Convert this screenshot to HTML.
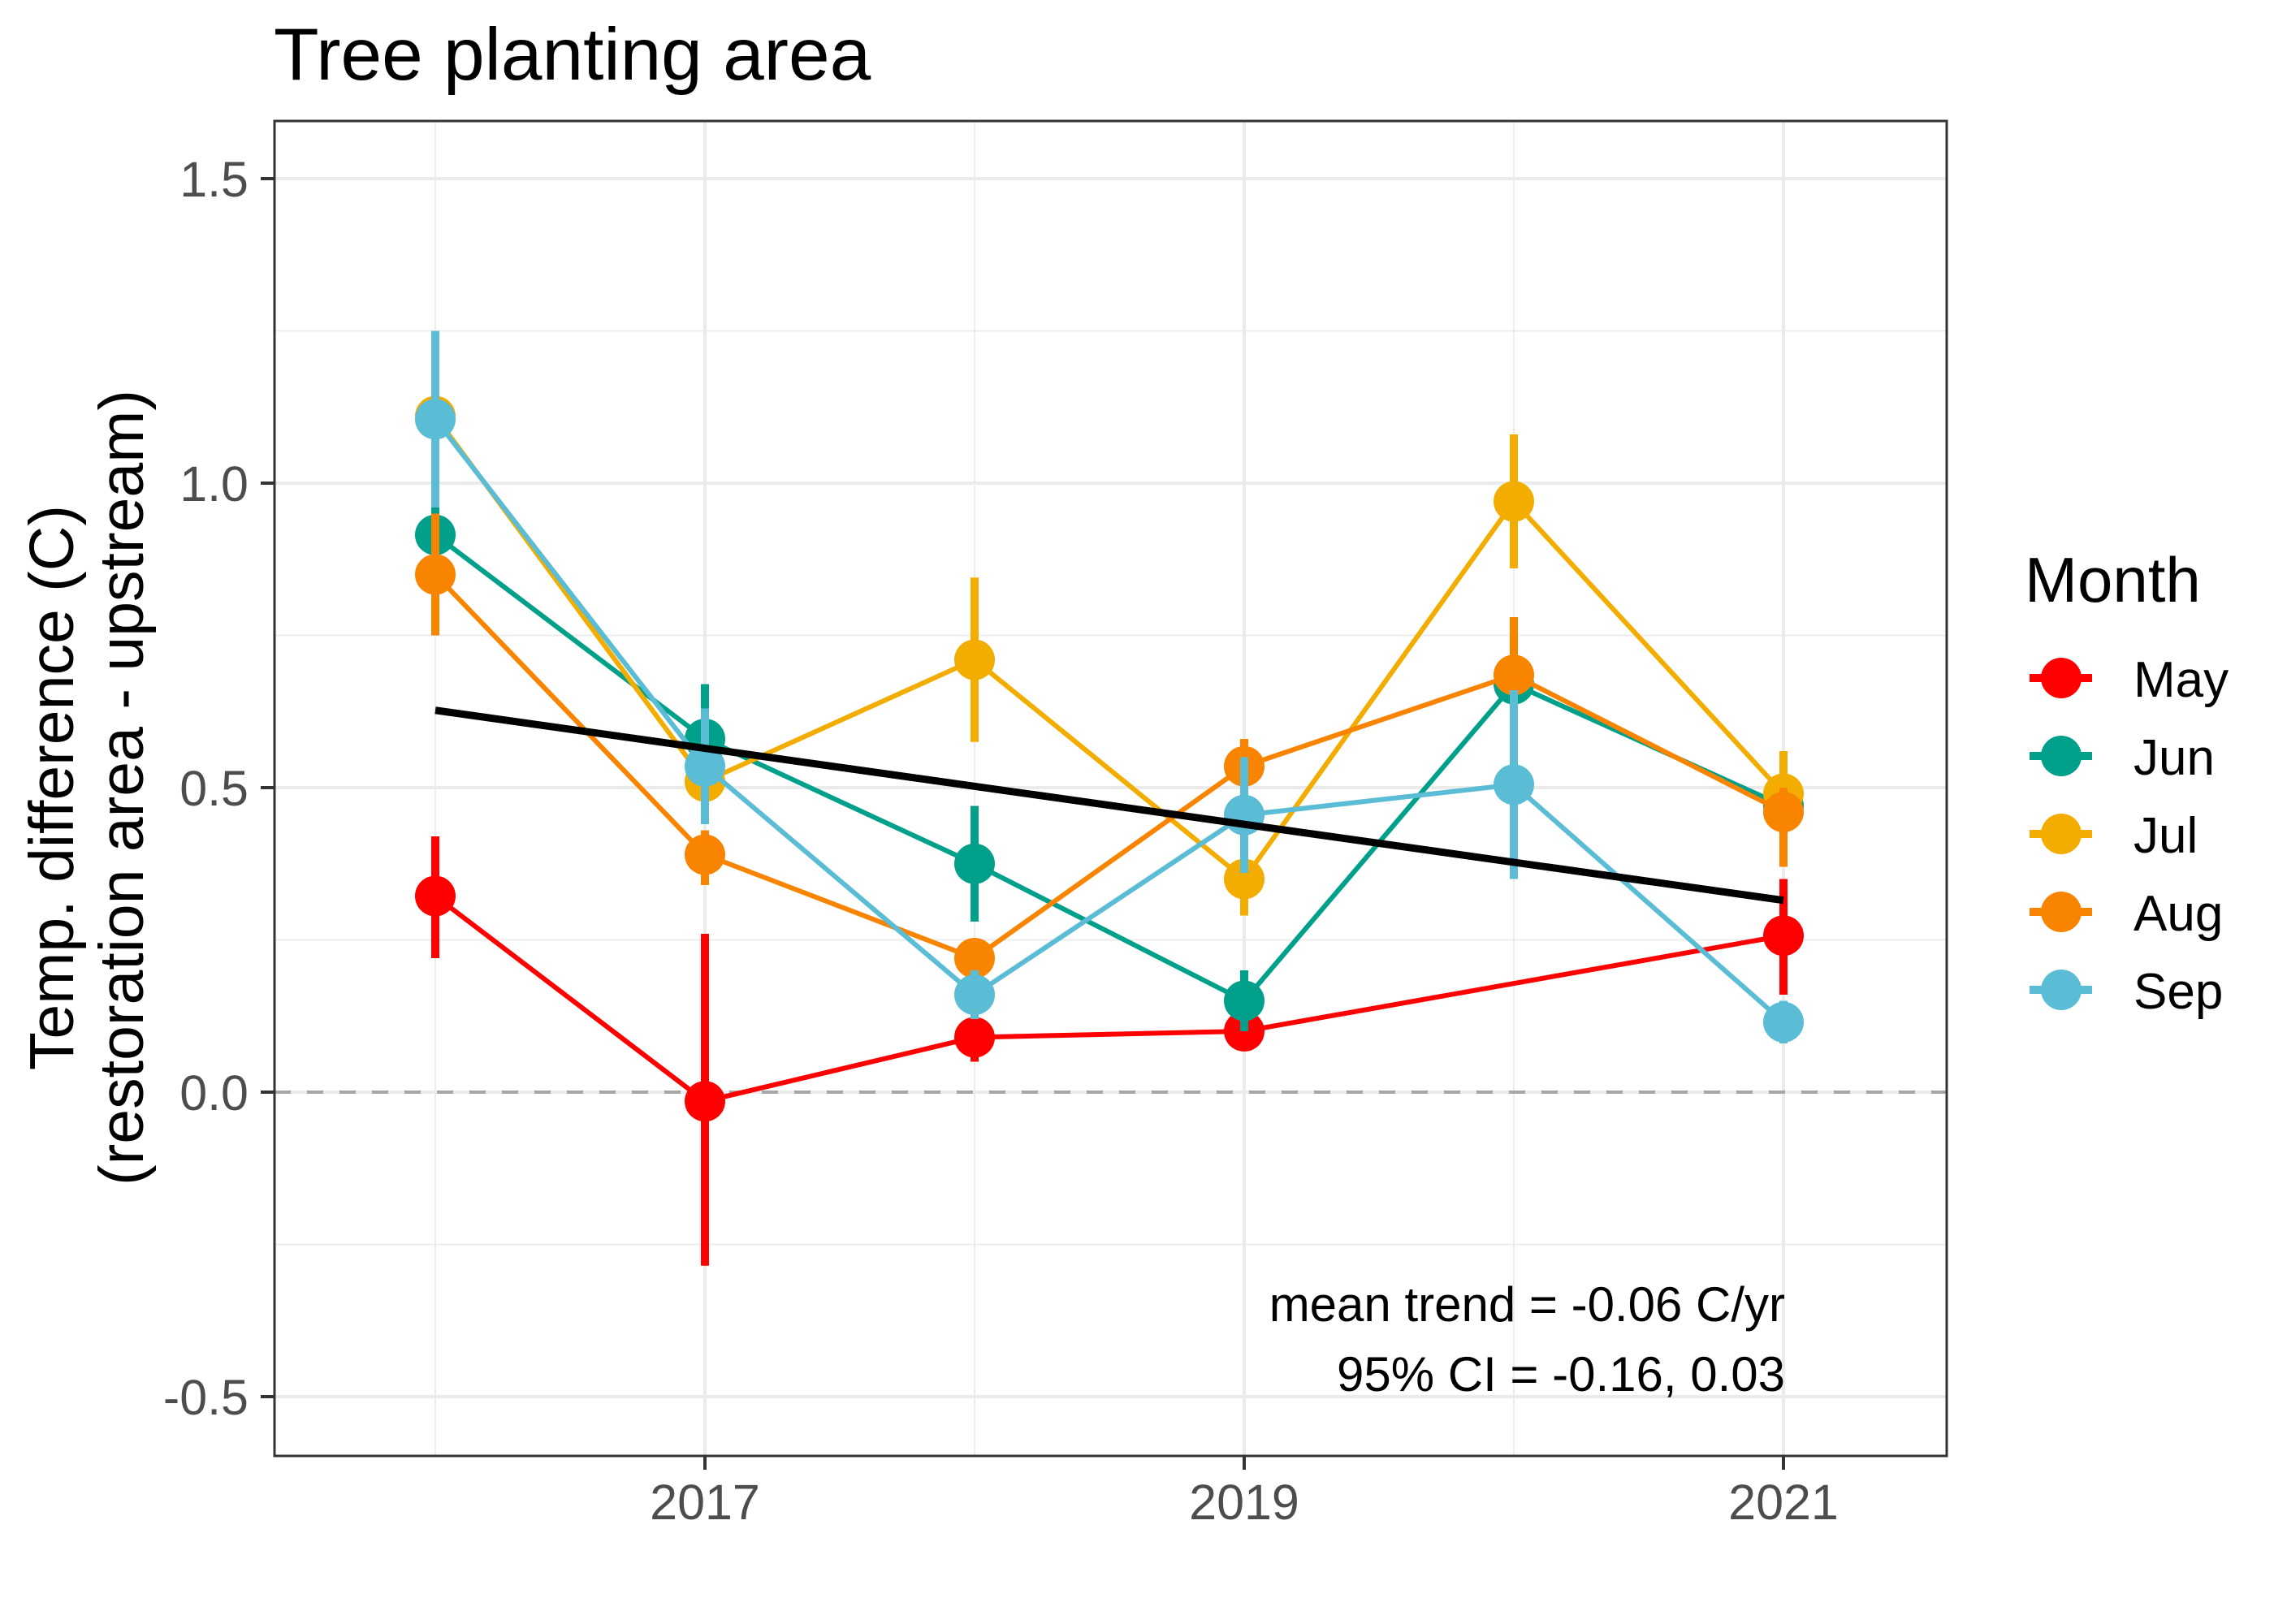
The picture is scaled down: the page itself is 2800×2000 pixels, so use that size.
<!DOCTYPE html>
<html><head><meta charset="utf-8"><style>
html,body{margin:0;padding:0;background:#fff;}
svg{display:block;font-family:"Liberation Sans",Arial,sans-serif;}
</style></head><body>
<svg id="chart" width="2800" height="2000" viewBox="0 0 2800 2000" xmlns="http://www.w3.org/2000/svg">
<rect width="2800" height="2000" fill="#fff"/>
<text x="337" y="98" font-size="91" fill="#000">Tree planting area</text>
<g id="grid"></g>
<g id="axes"></g>
<g id="series"></g>
<rect x="338" y="149" width="2059" height="1644" fill="none" stroke="#333" stroke-width="3"/>
<text transform="translate(0,970) rotate(-90)" font-size="77" text-anchor="middle" fill="#000"><tspan x="0" y="90">Temp. difference (C)</tspan><tspan x="0" y="176">(restoration area - upstream)</tspan></text>
<text font-size="60" text-anchor="end" fill="#000"><tspan x="2198" y="1627">mean trend = -0.06 C/yr</tspan><tspan x="2198" y="1713">95% CI = -0.16, 0.03</tspan></text>
<text x="2493" y="741" font-size="78" fill="#000">Month</text>
<g id="legend"></g>
</svg>
<script>
const years=[2016,2017,2018,2019,2020,2021];
const months=["May","Jun","Jul","Aug","Sep"];
const colors=["#FF0000","#00A08A","#F2AD00","#F98400","#5BBCD6"];
const mayVal=[0.322,-0.015,0.09,0.10,null,0.257];
const mayLo=[0.22,-0.285,0.05,0.07,null,0.16];
const mayHi=[0.42,0.26,0.12,0.13,null,0.35];
const junVal=[0.915,0.58,0.375,0.15,0.67,0.47];
const junLo=[0.87,0.49,0.28,0.10,0.64,0.44];
const junHi=[0.96,0.67,0.47,0.20,0.70,0.50];
const julVal=[1.11,0.51,0.71,0.35,0.97,0.49];
const julLo=[1.07,0.45,0.575,0.29,0.86,0.42];
const julHi=[1.15,0.55,0.845,0.41,1.08,0.56];
const augVal=[0.85,0.39,0.22,0.535,0.685,0.46];
const augLo=[0.75,0.34,0.20,0.49,0.59,0.37];
const augHi=[0.95,0.43,0.24,0.58,0.78,0.50];
const sepVal=[1.105,0.535,0.16,0.455,0.505,0.115];
const sepLo=[0.96,0.44,0.12,0.36,0.35,0.08];
const sepHi=[1.25,0.63,0.20,0.55,0.66,0.15];
const trendYears=[2016,2021];
const trendVals=[0.627,0.315];
const yTicks=[-0.5,0.0,0.5,1.0,1.5];
const yTickLabels=["-0.5","0.0","0.5","1.0","1.5"];
const yMinor=[-0.25,0.25,0.75,1.25];
const xTicks=[2017,2019,2021];
const xMinor=[2016,2018,2020];

const NS="http://www.w3.org/2000/svg";
const X=y=>868+(y-2017)*332;
const Y=v=>1345-v*750;
const L=338,R=2397,T=149,B=1793;
function mk(tag,attrs,parent){const e=document.createElementNS(NS,tag);for(const k in attrs)e.setAttribute(k,attrs[k]);parent.appendChild(e);return e;}
const grid=document.getElementById('grid'),axes=document.getElementById('axes'),ser=document.getElementById('series'),leg=document.getElementById('legend');
yMinor.forEach(v=>{const e=mk('line',{x1:L,x2:R,y1:Y(v),y2:Y(v),stroke:'#ececec','stroke-width':2},grid);

});
xMinor.forEach(v=>{const e=mk('line',{x1:X(v),x2:X(v),y1:T,y2:B,stroke:'#ececec','stroke-width':2},grid);

});
yTicks.forEach((v,i)=>{const e=mk('line',{x1:L,x2:R,y1:Y(v),y2:Y(v),stroke:'#ebebeb','stroke-width':4},grid);


const t=mk('line',{x1:L-17,x2:L,y1:Y(v),y2:Y(v),stroke:'#333','stroke-width':4},axes);


const lb=mk('text',{x:L-32,y:Y(v)+22,'font-size':61,'text-anchor':'end',fill:'#4d4d4d'},axes);lb.textContent=yTickLabels[i];

});
xTicks.forEach(v=>{const e=mk('line',{x1:X(v),x2:X(v),y1:T,y2:B,stroke:'#ebebeb','stroke-width':4},grid);


const t=mk('line',{x1:X(v),x2:X(v),y1:B,y2:B+17,stroke:'#333','stroke-width':4},axes);


const lb=mk('text',{x:X(v),y:B+78,'font-size':61,'text-anchor':'middle',fill:'#4d4d4d'},axes);lb.textContent=String(v);

});
const z=mk('line',{x1:L,x2:R,y1:Y(0),y2:Y(0),stroke:'#a6a6a6','stroke-width':4,'stroke-dasharray':'20 20'},grid);


const vals=[mayVal,junVal,julVal,augVal,sepVal],los=[mayLo,junLo,julLo,augLo,sepLo],his=[mayHi,junHi,julHi,augHi,sepHi];
vals.forEach((arr,m)=>{
 const g=mk('g',{},ser);
 
 
 const pts=[];arr.forEach((v,i)=>{if(v!==null)pts.push(X(years[i])+','+Y(v));});
 const pl=mk('polyline',{points:pts.join(' '),fill:'none',stroke:colors[m],'stroke-width':6},g);
 
 
 arr.forEach((v,i)=>{if(v===null)return;
  const eb=mk('line',{x1:X(years[i]),x2:X(years[i]),y1:Y(los[m][i]),y2:Y(his[m][i]),stroke:colors[m],'stroke-width':10},g);
  
  
  const c=mk('circle',{cx:X(years[i]),cy:Y(v),r:25,fill:colors[m]},g);
  
  
 });
 const ly=835+m*96;
 const kl=mk('line',{x1:2499,x2:2576,y1:ly,y2:ly,stroke:colors[m],'stroke-width':10},leg);
 
 
 const kc=mk('circle',{cx:2538,cy:ly,r:25,fill:colors[m]},leg);
 
 
 const kt=mk('text',{x:2627,y:ly+23,'font-size':62,fill:'#000'},leg);kt.textContent=months[m];
 
 
});
const tr=mk('line',{x1:X(trendYears[0]),y1:Y(trendVals[0]),x2:X(trendYears[1]),y2:Y(trendVals[1]),stroke:'#000','stroke-width':9},ser);


</script>
</body></html>
